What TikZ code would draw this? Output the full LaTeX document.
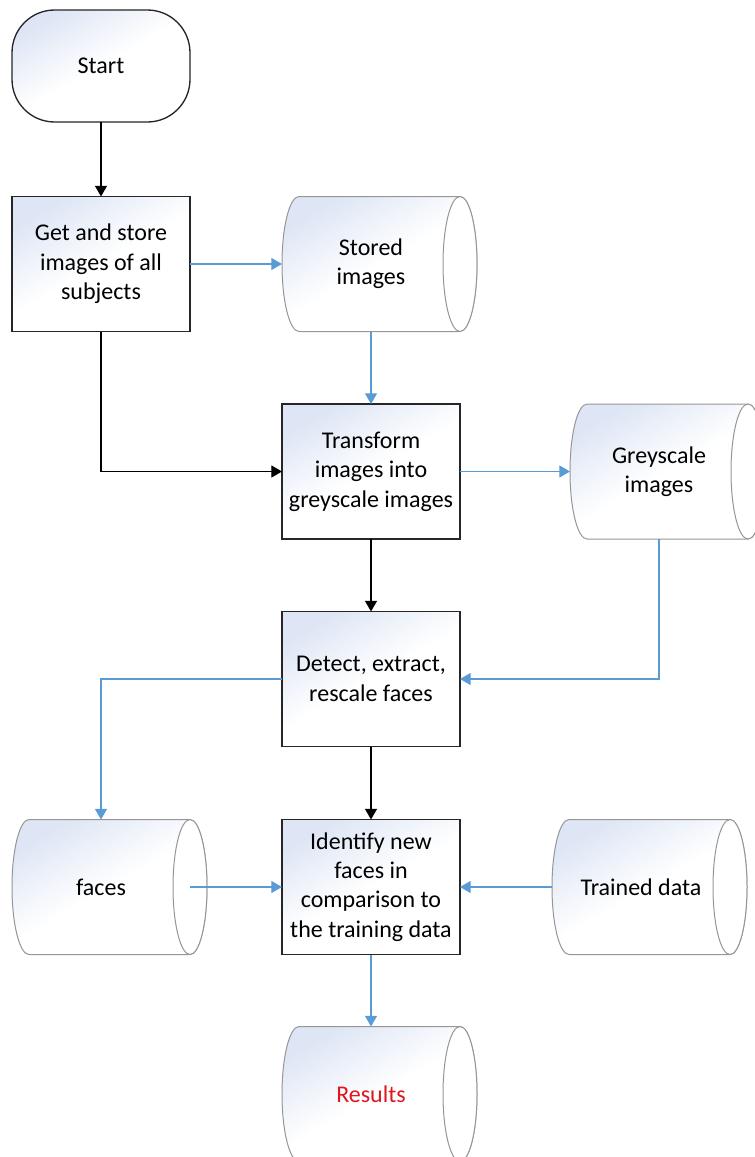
\documentclass[tikz,border=0pt]{standalone}
\usepackage{fontspec}
\setmainfont{Carlito}
\usepackage{xcolor}
\usepackage{tikz}
\usetikzlibrary{
	arrows.meta,
	calc,
	backgrounds,
	positioning
}
\definecolor{FlowBlue}{RGB}{91,155,213}
\definecolor{ShadeBlue}{RGB}{222,230,245}
\definecolor{StoreGray}{RGB}{150,150,150}
\definecolor{ResultRed}{RGB}{222,24,30}

\begin{document}
\begin{tikzpicture}[x=0.75pt, y=-0.75pt,
		termnode/.style={draw=black!85, line width=1pt, rounded corners=32pt,
			minimum width=133.5pt, minimum height=84pt, inner sep=0pt, outer sep=0pt,
			top color=ShadeBlue, bottom color=white, middle color=white, shading angle=30,
			font=\fontsize{18}{22}\selectfont},
		procbox/.style={draw=black!85, line width=1pt,
			minimum width=133.5pt, minimum height=101.25pt, inner sep=0pt, outer sep=0pt,
			top color=ShadeBlue, bottom color=white, middle color=white, shading angle=30,
			align=center, font=\fontsize{18}{22}\selectfont},
		datastore/.style={minimum width=133.5pt, minimum height=101.25pt,
			inner sep=0pt, outer sep=0pt, align=center,
			font=\fontsize{18}{22}\selectfont},
		storeshade/.style={draw=StoreGray, line width=0.75pt,
			top color=ShadeBlue, bottom color=white, middle color=white, shading angle=30},
		flow/.style={draw=black, line width=0.9pt, -{Triangle[length=8pt, width=9pt]}},
		dataflow/.style={draw=FlowBlue, line width=0.9pt, -{Triangle[length=8pt, width=9pt]}}
	]
	\clip (0,0) rectangle (755,1157);
	
	% process steps
	\node[termnode] (start) at (101,66) {Start};
	\node[procbox] (get) at (101,264) {Get and store\\images of all\\subjects};
	\node[procbox] (transform) at (371,471.5) {Transform\\images into\\greyscale images};
	\node[procbox] (detect) at (371,679) {Detect, extract,\\rescale faces};
	\node[procbox] (identify) at (371,887) {Identify new\\faces in\\comparison to\\the training data};
	
	% stored data
	\node[datastore] (stored) at (371,264) {Stored\\images};
	\node[datastore] (grey) at (659,471.5) {Greyscale\\images};
	\node[datastore] (faces) at (101,887) {faces};
	\node[datastore] (trained) at (641,887) {Trained data};
	\node[datastore, text=ResultRed] (results) at (371,1094) {Results};
	
	\begin{scope}[on background layer]
		\foreach \n in {stored,grey,faces,trained,results}{
			\shadedraw[storeshade] ([xshift=12.75pt]\n.north west) -- (\n.north east)
				arc[start angle=90, end angle=-90, x radius=12.75pt, y radius=50.625pt]
				-- ([xshift=12.75pt]\n.south west)
				arc[start angle=270, end angle=90, x radius=12.75pt, y radius=50.625pt] -- cycle;
			\filldraw[draw=StoreGray, line width=0.75pt, fill=white]
				(\n.east) ellipse[x radius=12.75pt, y radius=50.625pt];
		}
	\end{scope}
	
	\draw[flow] (start) -- (get);
	\draw[dataflow] (get) -- (stored);
	\draw[dataflow] (stored) -- (transform);
	\draw[flow] (get.south) |- (transform.west);
	\draw[dataflow] (transform) -- (grey);
	\draw[flow] (transform) -- (detect);
	\draw[dataflow] (grey.south) |- (detect.east);
	\draw[dataflow] (detect.west) -| (faces.north);
	\draw[flow] (detect) -- (identify);
	\draw[dataflow] (faces.east) -- (identify.west);
	\draw[dataflow] (trained) -- (identify);
	\draw[dataflow] (identify) -- (results);
\end{tikzpicture}
\end{document}
